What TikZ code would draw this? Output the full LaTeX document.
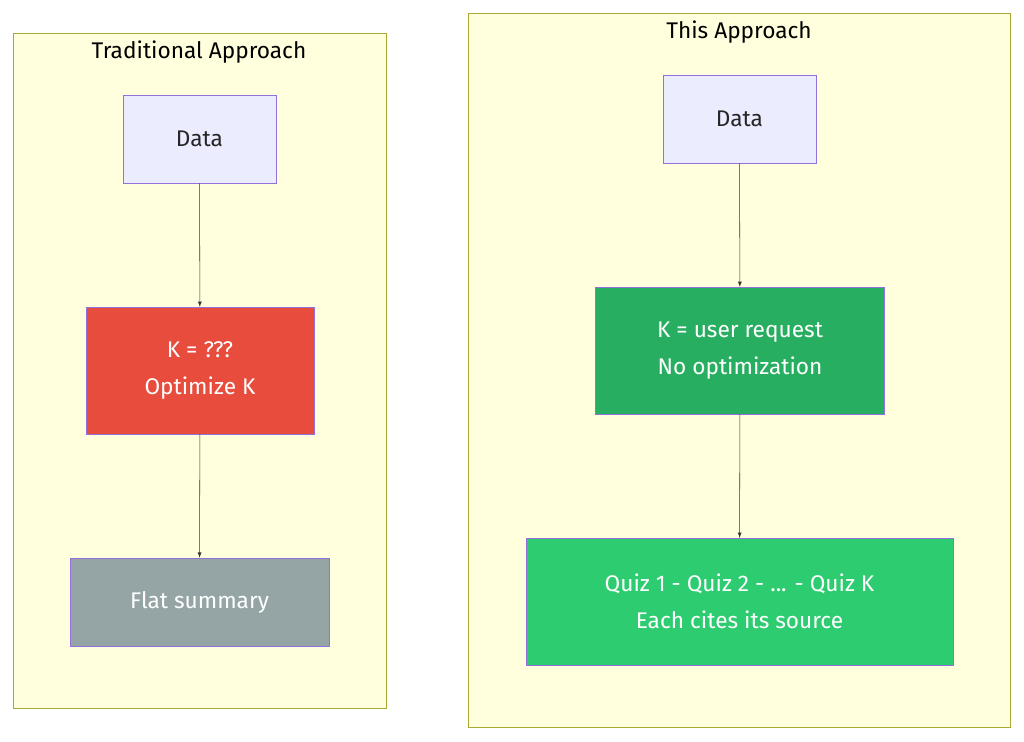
\documentclass[tikz,border=0pt]{standalone}
\usepackage{fontspec}
\setmainfont{Fira Sans}
\definecolor{clusterfill}{HTML}{FFFFDE}
\definecolor{clusterline}{HTML}{AAAA33}
\definecolor{nodefill}{HTML}{ECECFF}
\definecolor{nodeline}{HTML}{9370DB}
\definecolor{badred}{HTML}{E74C3C}
\definecolor{darkgreen}{HTML}{27AE60}
\definecolor{lightgreen}{HTML}{2ECC71}
\definecolor{flatgray}{HTML}{95A5A6}
\tikzset{
  cluster/.style={draw=clusterline, fill=clusterfill},
  box/.style={draw=nodeline, fill=nodefill, text=black!85, align=center, font=\fontsize{17}{28}\selectfont, inner sep=0pt},
  flow/.style={draw=black!80, -latex}
}
\begin{document}
\begin{tikzpicture}[x=0.75pt, y=-0.75pt]
                \useasboundingbox (0,0) rectangle (1024,742);

                \draw[cluster] (13,33) rectangle (386,708);
                \draw[cluster] (468,13) rectangle (1010,727);
                \node[font=\fontsize{17}{20}\selectfont] (titleA) at (199,52) {Traditional Approach};
                \node[font=\fontsize{17}{20}\selectfont] (titleB) at (739,32) {This Approach};

                \node[box, minimum width=115pt, minimum height=66pt] (dataA) at (199.5,139) {Data};
                \node[box, fill=badred, text=white, minimum width=171pt, minimum height=95pt] (optA) at (200,370.5) {K = ???\\Optimize K};
                \node[box, fill=flatgray, text=white, minimum width=194pt, minimum height=66pt] (flatA) at (199.5,602) {Flat summary};

                \node[box, minimum width=115pt, minimum height=66pt] (dataB) at (739.5,119) {Data};
                \node[box, fill=darkgreen, text=white, minimum width=217pt, minimum height=95pt] (reqB) at (740,350.5) {K = user request\\No optimization};
                \node[box, fill=lightgreen, text=white, minimum width=320pt, minimum height=95pt] (quizB) at (739.5,601.5) {Quiz 1 - Quiz 2 - ... - Quiz K\\Each cites its source};

                \draw[flow] (dataA) -- (optA);
                \draw[flow] (optA) -- (flatA);
                \draw[flow] (dataB) -- (reqB);
                \draw[flow] (reqB) -- (quizB);
\end{tikzpicture}
\end{document}
